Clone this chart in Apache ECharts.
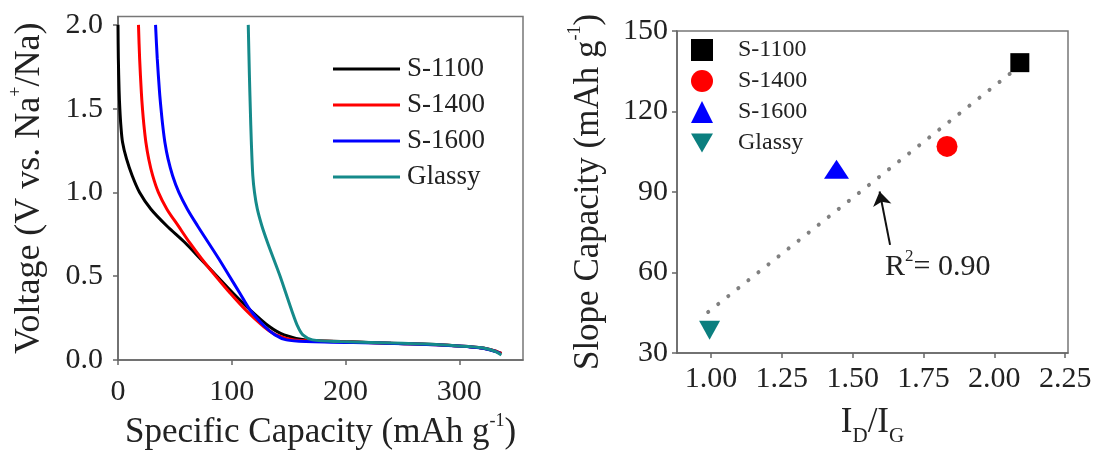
<!DOCTYPE html>
<html>
<head>
    <meta charset="utf-8">
    <title>Voltage profiles and slope capacity</title>
    <script src="https://cdn.jsdelivr.net/npm/echarts@6/dist/echarts.min.js"></script>
    <style>
        body { margin: 0; background: #fff; }
    </style>
</head>
<body>
    <div id="chart" style="width:1096px; height:450px"></div>

    <script>
        // left panel: discharge curves (capacity in mAh/g, voltage in V)
        const sampleNames = ['S-1100', 'S-1400', 'S-1600', 'Glassy'];
        const sVolt = [2.0, 1.8, 1.6, 1.5, 1.4, 1.3, 1.2, 1.1, 1.0, 0.9, 0.8, 0.7, 0.6, 0.5, 0.4, 0.3, 0.2, 0.15, 0.12, 0.11, 0.10, 0.09, 0.08, 0.07, 0.05, 0.04];
        const s1100Cap = [0, 0.3, 1.0, 1.6, 2.5, 4, 7.5, 12.5, 19, 29, 43, 59, 73, 87, 101, 116, 133, 146, 165, 200, 240, 285, 308, 322, 333, 337];
        const s1400Cap = [18, 19, 20.5, 21.5, 22.8, 24.5, 27, 30.5, 35.5, 43, 53, 63, 74, 86, 98.5, 112, 128, 139, 155, 195, 240, 285, 308, 322, 333, 337];
        const s1600Cap = [33, 34.5, 36.5, 37.8, 39.3, 41.2, 44, 48, 53.5, 61, 70, 79.5, 89, 98, 107, 116, 129, 138, 148, 165, 235, 283, 307, 321, 332, 336];
        const glassyVolt = [2.0, 1.7, 1.5, 1.3, 1.1, 1.0, 0.9, 0.8, 0.7, 0.6, 0.5, 0.4, 0.3, 0.2, 0.15, 0.12, 0.11, 0.10, 0.09, 0.08, 0.07, 0.05, 0.03];
        const glassyCap = [114.5, 115.5, 116.3, 117.2, 118.5, 120, 122.5, 126.5, 131.5, 137, 142.5, 147.5, 152.5, 158, 162.5, 171, 195, 250, 287, 308, 322, 332, 337];
        const capTicks = [0, 100, 200, 300];
        const voltTicks = [0, 0.5, 1.0, 1.5, 2.0];

        // right panel: slope capacity vs I_D/I_G
        const idigRatio = [2.09, 1.833, 1.443, 0.995];
        const slopeCap = [138.2, 107, 98.5, 38.5];
        const fitX = [0.99, 2.09];
        const fitY = [45.3, 137];
        const arrowFrom = [1.632, 70.3];
        const arrowTo = [1.595, 90.2];
        const r2Pos = [1.80, 62.8];
        const ratioTicks = [1.00, 1.25, 1.50, 1.75, 2.00, 2.25];
        const slopeTicks = [30, 60, 90, 120, 150];

        const lineColors = ['#000000', '#ff0000', '#0000ff', '#158a8a'];
        const markerColors = ['#000000', '#ff0000', '#0000ff', '#0b7f7f'];
        const markerSymbols = ['rect', 'circle', 'triangle', 'path://M0,0 L22,0 L11,19 Z'];
        const markerSizes = [19, 21, [25, 19], [21, 19]];

        const FONT = 'Liberation Serif';
        const zip = (xs, ys) => xs.map((x, i) => [x, ys[i]]);

        function titleRich(size) {
            return {
                m: { fontFamily: FONT, fontSize: size, color: '#222', verticalAlign: 'bottom' },
                p: { fontFamily: FONT, fontSize: 18, color: '#222', verticalAlign: 'top' },
                s: { fontFamily: FONT, fontSize: 21, color: '#222', verticalAlign: 'bottom' },
                t: { fontFamily: FONT, fontSize: size, color: '#222', verticalAlign: 'top' }
            };
        }

        function valueAxis(grid, min, max, ticks, digits, margin, extra) {
            return Object.assign({
                type: 'value',
                gridIndex: grid,
                min: min,
                max: max,
                axisLine: { show: true, onZero: false, lineStyle: { color: '#666', width: 1.5 } },
                axisTick: { show: true, inside: false, length: 5, customValues: ticks, lineStyle: { color: '#666', width: 1.5 } },
                axisLabel: {
                    customValues: ticks,
                    fontFamily: FONT,
                    fontSize: 30,
                    color: '#222',
                    margin: margin,
                    formatter: v => v.toFixed(digits)
                },
                splitLine: { show: false },
                nameLocation: 'middle'
            }, extra);
        }

        let chart = echarts.init(document.getElementById('chart'));

        let series = [];
        const leftCaps = [s1100Cap, s1400Cap, s1600Cap, glassyCap];
        const leftVolts = [sVolt, sVolt, sVolt, glassyVolt];
        sampleNames.forEach((name, i) => {
            series.push({
                name: name,
                type: 'line',
                xAxisIndex: 0,
                yAxisIndex: 0,
                symbol: 'none',
                showSymbol: false,
                smooth: 0.3,
                lineStyle: { color: lineColors[i], width: 3 },
                itemStyle: { color: lineColors[i] },
                data: zip(leftCaps[i], leftVolts[i]),
                z: 2 + (i === 3 ? 1 : 0)
            });
        });

        // dotted linear fit, with the arrow and R^2 note
        series.push({
            name: 'fit',
            type: 'line',
            xAxisIndex: 1,
            yAxisIndex: 1,
            symbol: 'none',
            lineStyle: { color: '#808080', width: 4, type: [0.1, 12.7], cap: 'round' },
            data: zip(fitX, fitY),
            z: 1,
            markLine: {
                silent: true,
                symbol: ['none', 'arrow'],
                symbolSize: 14,
                lineStyle: { color: '#111', width: 2, type: 'solid' },
                label: { show: false },
                data: [[{ coord: arrowFrom }, { coord: arrowTo }]]
            },
            markPoint: {
                silent: true,
                symbol: 'circle',
                symbolSize: 0,
                data: [{
                    coord: r2Pos,
                    label: {
                        show: true,
                        formatter: '{r|R}{p|2}{r|= 0.90}',
                        lineHeight: 34,
                        rich: {
                            r: { fontFamily: FONT, fontSize: 30, color: '#222', verticalAlign: 'bottom' },
                            p: { fontFamily: FONT, fontSize: 17, color: '#222', verticalAlign: 'top' }
                        }
                    }
                }]
            }
        });

        sampleNames.forEach((name, i) => {
            series.push({
                name: name + '|r',
                type: 'scatter',
                xAxisIndex: 1,
                yAxisIndex: 1,
                symbol: markerSymbols[i],
                symbolSize: markerSizes[i],
                itemStyle: { color: markerColors[i], opacity: 1 },
                data: [[idigRatio[i], slopeCap[i]]],
                z: 4
            });
        });

        let option = {
            animation: false,
            backgroundColor: '#fff',
            grid: [
                { left: 118, top: 16.5, width: 405, height: 343.5, show: true, borderColor: '#777', borderWidth: 1.5, containLabel: false, outerBoundsMode: 'none' },
                { left: 677, top: 31, width: 391, height: 322, show: true, borderColor: '#777', borderWidth: 1.5, containLabel: false, outerBoundsMode: 'none' }
            ],
            xAxis: [
                valueAxis(0, 0, 356, capTicks, 0, 17, {
                    name: '{m|Specific Capacity (mAh g}{p|-1}{m|)}',
                    nameGap: 45,
                    nameTextStyle: { lineHeight: 38, rich: titleRich(35) }
                }),
                valueAxis(1, 0.88, 2.26, ratioTicks, 2, 11, {
                    name: '{t|I}{s|D}{t|/I}{s|G}',
                    nameGap: 52,
                    nameTextStyle: { lineHeight: 42, rich: titleRich(35) }
                })
            ],
            yAxis: [
                valueAxis(0, 0, 2.05, voltTicks, 1, 15, {
                    name: '{m|Voltage (V vs. Na}{p|+}{m|/Na)}',
                    nameGap: 70,
                    nameTextStyle: { lineHeight: 41, rich: titleRich(36) }
                }),
                valueAxis(1, 30, 150, slopeTicks, 0, 9, {
                    name: '{m|Slope Capacity (mAh g}{p|-1}{m|)}',
                    nameGap: 71,
                    nameTextStyle: { lineHeight: 40, rich: titleRich(35) }
                })
            ],
            legend: [
                {
                    data: sampleNames,
                    icon: 'rect',
                    orient: 'vertical',
                    left: 333,
                    top: 54,
                    padding: 0,
                    itemWidth: 67,
                    itemHeight: 3,
                    itemGap: 6,
                    selectedMode: false,
                    textStyle: { fontFamily: FONT, fontSize: 27, lineHeight: 30, color: '#222', padding: [0, 0, 0, 2] }
                },
                {
                    data: sampleNames.map(n => n + '|r'),
                    formatter: name => name.split('|')[0],
                    orient: 'vertical',
                    left: 691,
                    top: 38,
                    padding: 0,
                    itemWidth: 22,
                    itemHeight: 22,
                    itemGap: 7,
                    selectedMode: false,
                    textStyle: { fontFamily: FONT, fontSize: 24, lineHeight: 24, color: '#222', padding: [0, 0, 0, 20] }
                }
            ],
            series: series
        };

        chart.setOption(option);
    </script>
</body>
</html>
